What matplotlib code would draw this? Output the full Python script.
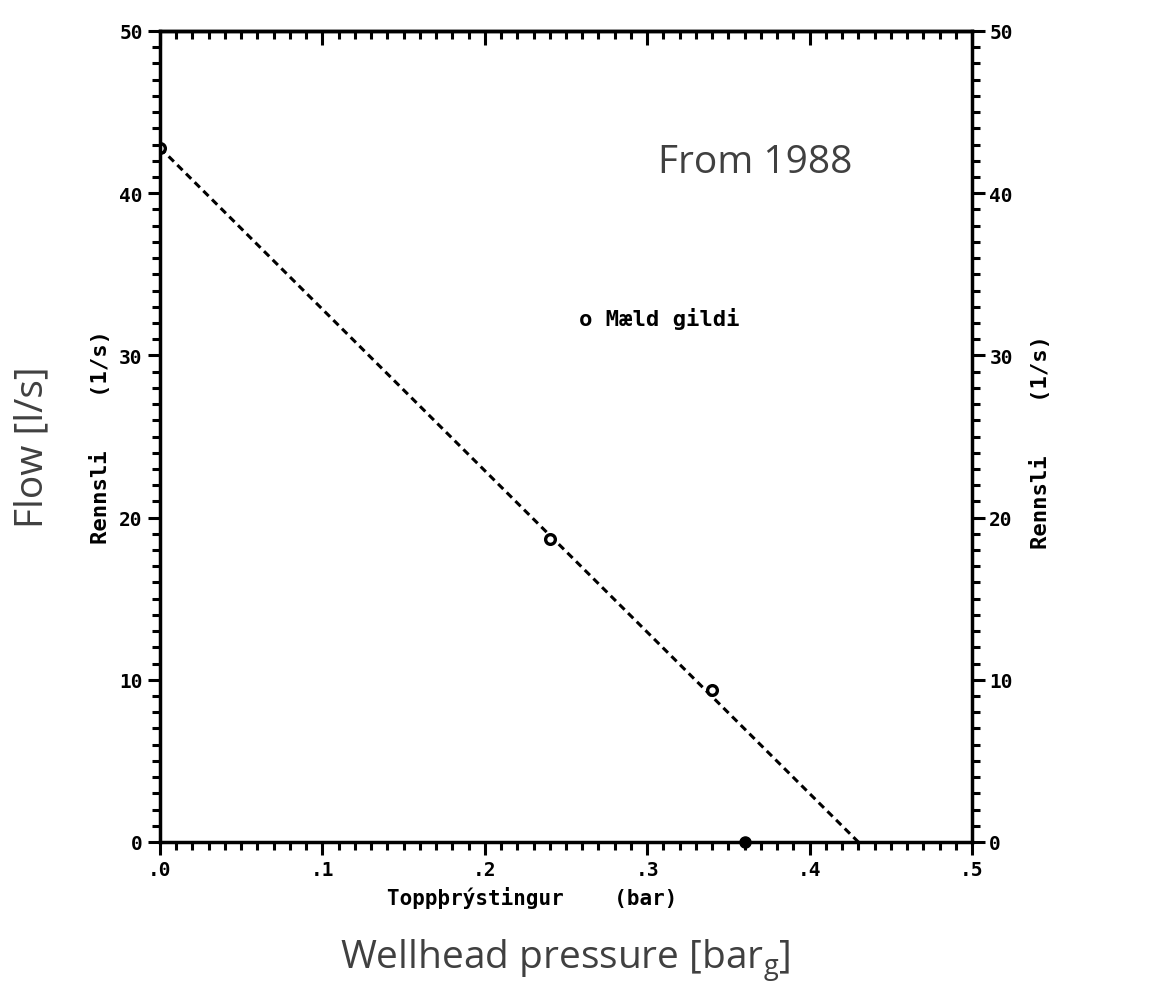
import matplotlib
matplotlib.use("Agg")
import matplotlib.pyplot as plt
from matplotlib.ticker import MultipleLocator

# measured points (pressure in bar, flow in l/s)
pressure = [0.0, 0.24, 0.34, 0.36]
flow = [42.8, 18.7, 9.4, 0.0]
# fitted line end points
fit_p = [0.0, 0.43]
fit_q = [42.8, 0.0]

x_ticks = [0.0, 0.1, 0.2, 0.3, 0.4, 0.5]
x_tick_labels = [".0", ".1", ".2", ".3", ".4", ".5"]
y_ticks = [0, 10, 20, 30, 40, 50]

mono = "DejaVu Sans Mono"
gray = "#404040"

fig = plt.figure(figsize=(11.52, 9.95), dpi=100)
ax = fig.add_axes([160 / 1152, 1 - 843 / 995, (972 - 160) / 1152, (843 - 32) / 995])

ax.plot(fit_p, fit_q, color="black", linestyle=(0, (2.4, 1.6)), linewidth=2.2)
ax.plot(pressure[:3], flow[:3], linestyle="none", marker="o", markersize=7,
        markerfacecolor="white", markeredgecolor="black", markeredgewidth=2.4)
ax.plot(pressure[3:], flow[3:], linestyle="none", marker="o", markersize=8,
        color="black", clip_on=False)

ax.set_xlim(0, 0.5)
ax.set_ylim(0, 50)
for s in ax.spines.values():
    s.set_linewidth(2.5)

ax.set_xticks(x_ticks)
ax.set_xticklabels(x_tick_labels)
ax.xaxis.set_minor_locator(MultipleLocator(0.01))
ax.set_yticks(y_ticks)
ax.yaxis.set_minor_locator(MultipleLocator(1))

ax.tick_params(which="both", direction="out", width=2.2, colors="black",
               labelsize=14, left=True, right=True, labelleft=True,
               labelright=True, top=False)
ax.tick_params(which="major", length=9)
ax.tick_params(which="minor", length=6)
ax.tick_params(axis="x", which="both", pad=4)
for lab in ax.get_xticklabels():
    lab.set_fontfamily(mono)
    lab.set_fontweight("bold")
for t in ax.yaxis.get_major_ticks():
    for lab in (t.label1, t.label2):
        lab.set_fontfamily(mono)
        lab.set_fontweight("bold")

# top axis: inward ticks, no labels
top = ax.secondary_xaxis("top")
top.set_xticks(x_ticks)
top.xaxis.set_minor_locator(MultipleLocator(0.01))
top.tick_params(which="both", direction="in", width=2.2, labeltop=False)
top.tick_params(which="major", length=10)
top.tick_params(which="minor", length=6)
top.spines["top"].set_linewidth(2.5)

fig.text(532 / 1152, 1 - 898 / 995, "Toppþrýstingur    (bar)", fontfamily=mono,
         fontweight="bold", fontsize=15, ha="center", va="center")
ax.set_ylabel("Rennsli    (1/s)", fontfamily=mono, fontweight="bold",
              fontsize=16, labelpad=6)
fig.text(1040 / 1152, 1 - 442 / 995, "Rennsli    (1/s)", fontfamily=mono,
         fontweight="bold", fontsize=16, rotation=90, ha="center", va="center")

ax.text(0.258, 32.3, "o Mæld gildi", fontfamily=mono, fontweight="bold",
        fontsize=16, va="center", ha="left")

fig.text(755 / 1152, 1 - 163 / 995, "From 1988", fontfamily="Open Sans",
         fontsize=28, color=gray, ha="center", va="center")
fig.text(32 / 1152, 1 - 447 / 995, "Flow [l/s]", fontfamily="Open Sans",
         fontsize=28, color=gray, ha="center", va="center", rotation=90)
fig.text(565 / 1152, 1 - 961 / 995, "Wellhead pressure [bar$_\\mathregular{g}$]",
         fontfamily="Open Sans", fontsize=28, color=gray, ha="center", va="center")

fig.savefig("out.png", dpi=100)
